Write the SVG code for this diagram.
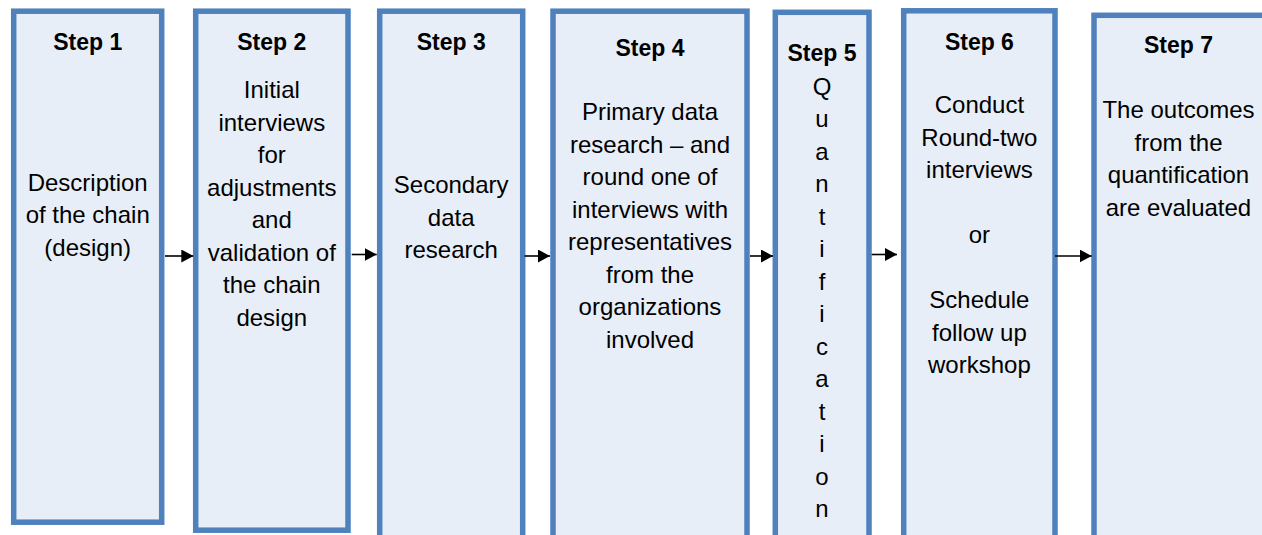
<svg xmlns="http://www.w3.org/2000/svg" width="1262" height="535" viewBox="0 0 1262 535">
<style>
.box{fill:#E8EEF7;stroke:#4F81BD;stroke-width:5.5}
.t{font-family:"Liberation Sans",Arial,sans-serif;font-size:24px;fill:#000;text-anchor:middle}
.h{font-family:"Liberation Sans",Arial,sans-serif;font-size:23px;font-weight:bold;fill:#000;text-anchor:middle}
.c{stroke:#000;stroke-width:1.6;fill:none;marker-end:url(#ah)}
</style>
<defs>
<marker id="ah" markerUnits="userSpaceOnUse" markerWidth="12" markerHeight="13" refX="12" refY="6.5" orient="auto">
<path d="M0,0 L12,6.5 L0,13 Z" fill="#000"/>
</marker>
</defs>
<rect width="1262" height="535" fill="#fff"/>
<g id="step1">
<rect class="box" x="13.7" y="11.2" width="148" height="511"/>
<text class="h" x="87.7" y="49.5">Step 1</text>
<text class="t" x="87.7" y="191">Description</text>
<text class="t" x="87.7" y="223.3">of the chain</text>
<text class="t" x="87.7" y="255.6">(design)</text>
</g>
<g id="step2">
<rect class="box" x="195.7" y="11.2" width="152.3" height="519"/>
<text class="h" x="271.8" y="49.5">Step 2</text>
<text class="t" x="271.8" y="98">Initial</text>
<text class="t" x="271.8" y="130.5">interviews</text>
<text class="t" x="271.8" y="163">for</text>
<text class="t" x="271.8" y="195.5">adjustments</text>
<text class="t" x="271.8" y="228">and</text>
<text class="t" x="271.8" y="260.5">validation of</text>
<text class="t" x="271.8" y="293">the chain</text>
<text class="t" x="271.8" y="325.5">design</text>
</g>
<g id="step3">
<rect class="box" x="379.7" y="11.2" width="143" height="540"/>
<text class="h" x="451.2" y="49.5">Step 3</text>
<text class="t" x="451.2" y="193">Secondary</text>
<text class="t" x="451.2" y="225.5">data</text>
<text class="t" x="451.2" y="258">research</text>
</g>
<g id="step4">
<rect class="box" x="553" y="11.2" width="194" height="540"/>
<text class="h" x="650" y="55.7">Step 4</text>
<text class="t" x="650" y="120">Primary data</text>
<text class="t" x="650" y="152.5">research – and</text>
<text class="t" x="650" y="185">round one of</text>
<text class="t" x="650" y="217.5">interviews with</text>
<text class="t" x="650" y="250">representatives</text>
<text class="t" x="650" y="282.5">from the</text>
<text class="t" x="650" y="315">organizations</text>
<text class="t" x="650" y="347.5">involved</text>
</g>
<g id="step5">
<rect class="box" x="775.3" y="12.3" width="93.7" height="540"/>
<text class="h" x="822" y="61">Step 5</text>
<text class="t" x="822" y="94.5">Q</text>
<text class="t" x="822" y="127">u</text>
<text class="t" x="822" y="159.5">a</text>
<text class="t" x="822" y="192">n</text>
<text class="t" x="822" y="224.5">t</text>
<text class="t" x="822" y="257">i</text>
<text class="t" x="822" y="289.5">f</text>
<text class="t" x="822" y="322">i</text>
<text class="t" x="822" y="354.5">c</text>
<text class="t" x="822" y="387">a</text>
<text class="t" x="822" y="419.5">t</text>
<text class="t" x="822" y="452">i</text>
<text class="t" x="822" y="484.5">o</text>
<text class="t" x="822" y="517">n</text>
</g>
<g id="step6">
<rect class="box" x="903.7" y="10.8" width="151.3" height="540"/>
<text class="h" x="979.4" y="49.5">Step 6</text>
<text class="t" x="979.4" y="113">Conduct</text>
<text class="t" x="979.4" y="145.5">Round-two</text>
<text class="t" x="979.4" y="178">interviews</text>
<text class="t" x="979.4" y="243">or</text>
<text class="t" x="979.4" y="308">Schedule</text>
<text class="t" x="979.4" y="340.5">follow up</text>
<text class="t" x="979.4" y="373">workshop</text>
</g>
<g id="step7">
<rect class="box" x="1094" y="15.3" width="200" height="540"/>
<text class="h" x="1178.5" y="53.3">Step 7</text>
<text class="t" x="1178.5" y="118">The outcomes</text>
<text class="t" x="1178.5" y="150.5">from the</text>
<text class="t" x="1178.5" y="183">quantification</text>
<text class="t" x="1178.5" y="215.5">are evaluated</text>
</g>
<g id="connectors">
<line class="c" x1="165" y1="256" x2="193.3" y2="256"/>
<line class="c" x1="351.7" y1="254.5" x2="376.7" y2="254.5"/>
<line class="c" x1="524.5" y1="256" x2="550" y2="256"/>
<line class="c" x1="750" y1="256" x2="773" y2="256"/>
<line class="c" x1="871.7" y1="254.5" x2="897" y2="254.5"/>
<line class="c" x1="1055" y1="256" x2="1091.7" y2="256"/>
</g>
</svg>
